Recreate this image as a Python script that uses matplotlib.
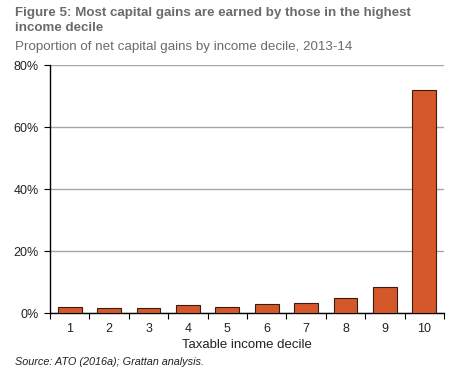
import matplotlib
matplotlib.use("Agg")
import matplotlib.pyplot as plt
import numpy as np

deciles = ["1", "2", "3", "4", "5", "6", "7", "8", "9", "10"]
share = [1.9, 1.6, 1.7, 2.5, 1.9, 2.9, 3.2, 4.8, 8.4, 72.0]
yticks = [0, 20, 40, 60, 80]
ytick_labels = ["0%", "20%", "40%", "60%", "80%"]

plt.rcParams['font.family'] = ['Liberation Sans', 'DejaVu Sans']

fig = plt.figure(figsize=(4.71, 3.74), dpi=100)
ax = fig.add_axes([50/471, 1-313/374, (444-50)/471, (313-65)/374])

x = np.arange(1, len(deciles)+1)
ax.bar(x, share, width=0.6, color="#D4582A", edgecolor="#3a1c12", linewidth=0.8, zorder=3)

ax.set_xlim(0.5, 10.5)
ax.set_ylim(0, 80)
ax.set_yticks(yticks)
ax.set_yticklabels(ytick_labels)
ax.yaxis.grid(True, color="#a6a6a6", linewidth=1.0, zorder=0)
ax.set_axisbelow(True)

ax.set_xticks(np.arange(0.5, 11, 1))
ax.set_xticklabels([])
ax.set_xticks(x, minor=True)
ax.set_xticklabels(deciles, minor=True)
ax.tick_params(axis='x', which='major', length=4, width=0.8, direction='out', color="#000000")
ax.tick_params(axis='x', which='minor', length=0, pad=7, labelsize=9, labelcolor="#222222")
ax.tick_params(axis='y', length=4, width=0.8, direction='out', pad=4, labelsize=9, labelcolor="#222222")

for s in ["top", "right"]:
    ax.spines[s].set_visible(False)
ax.spines["left"].set_linewidth(1.0)
ax.spines["bottom"].set_linewidth(1.0)

ax.set_xlabel("Taxable income decile", fontsize=9.5, color="#222222", labelpad=3)

fig.text(15/471, 1-13/374, "Figure 5: Most capital gains are earned by those in the highest",
         fontsize=9.6, fontweight="bold", color="#6b6b6b", ha="left", va="center")
fig.text(15/471, 1-28/374, "income decile",
         fontsize=9.6, fontweight="bold", color="#6b6b6b", ha="left", va="center")
fig.text(15/471, 1-47/374, "Proportion of net capital gains by income decile, 2013-14",
         fontsize=9.6, color="#6b6b6b", ha="left", va="center")
fig.text(15/471, 1-362/374, "Source: ATO (2016a); Grattan analysis.",
         fontsize=7.8, style="italic", color="#222222", ha="left", va="center")

fig.savefig("out.png", dpi=100)
